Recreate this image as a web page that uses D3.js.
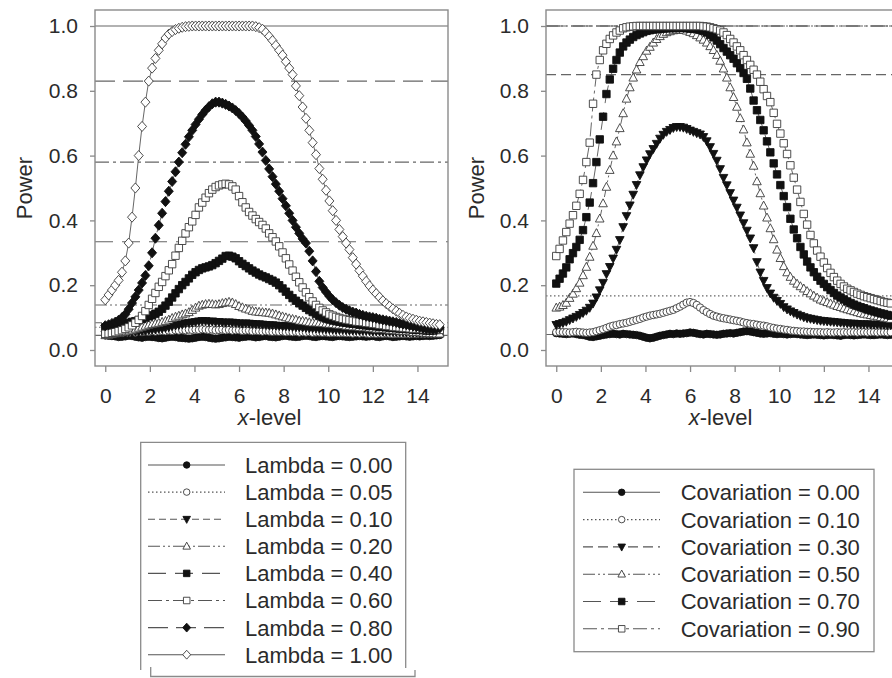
<!DOCTYPE html>
<html><head><meta charset="utf-8">
<script src="https://cdn.jsdelivr.net/npm/d3@7"></script>
<style>
body{margin:0;background:#fff}
svg{display:block}
text{font-family:"Liberation Sans",Arial,Helvetica,sans-serif;fill:#2b2b2b}
</style>
</head><body>
<svg id="chart" width="892" height="678"></svg>
<script>
// ---------- DATA ----------
const xGrid = d3.range(101).map(i => +(i * 0.15).toFixed(2));   // x-levels 0.00 .. 15.00
const xTicks = [0, 2, 4, 6, 8, 10, 12, 14];
const yTicks = [0.0, 0.2, 0.4, 0.6, 0.8, 1.0];

const lambdaLabels = ["Lambda = 0.00","Lambda = 0.05","Lambda = 0.10","Lambda = 0.20","Lambda = 0.40","Lambda = 0.60","Lambda = 0.80","Lambda = 1.00"];
const lambda000 = [.045,.044,.043,.042,.04,.041,.042,.044,.043,.041,
 .039,.038,.04,.041,.04,.039,.037,.036,.038,.04,
 .041,.04,.038,.037,.036,.035,.036,.038,.04,.041,
 .04,.038,.036,.035,.036,.038,.039,.041,.04,.039,
 .038,.04,.041,.042,.041,.039,.04,.042,.043,.041,
 .04,.039,.041,.043,.044,.042,.041,.04,.041,.043,
 .044,.043,.041,.04,.042,.043,.042,.041,.04,.042,
 .043,.042,.041,.04,.041,.042,.043,.042,.041,.042,
 .043,.041,.04,.042,.043,.042,.04,.041,.042,.043,
 .042,.041,.042,.043,.042,.043,.044,.043,.044,.045,
 .046];
const lambda005 = [.052,.05,.053,.051,.053,.052,.054,.053,.055,.054,
 .056,.055,.057,.056,.058,.057,.058,.059,.058,.06,
 .059,.061,.06,.062,.061,.063,.062,.063,.062,.064,
 .063,.062,.063,.061,.062,.063,.061,.062,.06,.061,
 .061,.059,.06,.06,.058,.059,.058,.057,.058,.057,
 .056,.057,.056,.057,.055,.056,.055,.056,.054,.055,
 .054,.055,.053,.054,.054,.053,.054,.052,.053,.053,
 .052,.053,.052,.052,.051,.052,.051,.052,.051,.05,
 .051,.05,.051,.05,.051,.05,.049,.05,.05,.049,
 .05,.049,.05,.049,.05,.049,.05,.05,.049,.05,
 .05];
const lambda010 = [.048,.05,.049,.051,.052,.054,.053,.055,.056,.058,
 .057,.059,.06,.062,.063,.064,.066,.067,.069,.071,
 .074,.076,.078,.08,.083,.084,.086,.087,.089,.09,
 .09,.088,.089,.087,.087,.086,.085,.086,.085,.084,
 .083,.082,.083,.082,.081,.08,.08,.079,.078,.077,
 .077,.076,.075,.074,.074,.073,.072,.071,.071,.07,
 .069,.068,.068,.067,.066,.066,.065,.065,.064,.063,
 .063,.063,.062,.061,.061,.061,.06,.06,.06,.059,
 .058,.058,.058,.057,.057,.057,.056,.056,.056,.055,
 .055,.055,.054,.054,.053,.053,.053,.053,.052,.052,
 .053];
const lambda020 = [.045,.046,.048,.05,.052,.054,.056,.059,.062,.065,
 .068,.071,.074,.077,.079,.081,.083,.086,.089,.093,
 .098,.102,.105,.109,.112,.116,.123,.13,.136,.139,
 .141,.142,.141,.14,.141,.144,.146,.148,.146,.141,
 .135,.131,.127,.124,.12,.118,.117,.116,.115,.114,
 .112,.109,.106,.103,.1,.097,.095,.093,.09,.089,
 .087,.085,.084,.084,.083,.082,.081,.08,.079,.078,
 .077,.076,.074,.073,.072,.072,.07,.069,.069,.068,
 .066,.065,.065,.064,.063,.062,.061,.06,.059,.058,
 .058,.057,.055,.055,.054,.053,.052,.051,.051,.05,
 .05];
const lambda040 = [.07,.071,.073,.075,.077,.079,.081,.084,.087,.089,
 .092,.096,.1,.104,.107,.112,.118,.127,.137,.149,
 .162,.175,.188,.2,.21,.221,.232,.24,.247,.252,
 .255,.258,.262,.268,.275,.282,.29,.291,.288,.283,
 .274,.266,.259,.252,.245,.239,.233,.228,.224,.219,
 .214,.208,.2,.19,.18,.17,.16,.152,.144,.137,
 .13,.123,.117,.111,.106,.101,.097,.094,.091,.089,
 .087,.085,.084,.082,.081,.08,.078,.077,.076,.075,
 .074,.073,.072,.071,.07,.069,.068,.067,.066,.065,
 .065,.064,.063,.062,.062,.061,.06,.06,.06,.062,
 .066];
const lambda060 = [.05,.051,.053,.055,.058,.061,.065,.07,.076,.084,
 .093,.105,.12,.139,.158,.176,.195,.21,.228,.246,
 .265,.291,.315,.337,.36,.379,.397,.417,.44,.455,
 .47,.484,.495,.503,.508,.511,.513,.511,.505,.495,
 .475,.456,.44,.426,.415,.404,.395,.386,.375,.36,
 .348,.335,.32,.301,.283,.264,.245,.226,.209,.193,
 .178,.163,.15,.139,.13,.122,.116,.11,.106,.102,
 .099,.096,.094,.092,.09,.088,.087,.086,.084,.083,
 .081,.08,.078,.077,.075,.074,.072,.071,.07,.069,
 .068,.067,.066,.066,.065,.064,.064,.063,.063,.062,
 .062];
const lambda080 = [.075,.078,.082,.086,.092,.1,.11,.126,.145,.164,
 .185,.207,.23,.26,.3,.345,.385,.422,.458,.49,
 .52,.55,.58,.609,.635,.658,.678,.696,.712,.727,
 .74,.751,.76,.765,.765,.762,.758,.753,.747,.739,
 .73,.719,.707,.693,.678,.659,.636,.611,.585,.559,
 .535,.512,.49,.467,.445,.422,.4,.379,.36,.343,
 .33,.305,.275,.242,.212,.193,.179,.166,.155,.146,
 .138,.131,.126,.121,.117,.114,.11,.107,.104,.102,
 .1,.098,.095,.093,.091,.089,.087,.085,.082,.08,
 .078,.076,.074,.072,.07,.068,.066,.065,.064,.064,
 .068];
const lambda100 = [.155,.17,.185,.2,.215,.24,.275,.33,.41,.5,
 .6,.69,.765,.83,.87,.9,.925,.945,.963,.975,
 .983,.989,.993,.996,.998,.999,1,1,1,1,
 1,1,1,1,1,1,1,1,1,1,
 1,1,1,1,1,.998,.995,.99,.98,.968,
 .955,.94,.925,.91,.89,.87,.85,.815,.785,.75,
 .715,.678,.64,.603,.56,.527,.493,.46,.43,.4,
 .372,.35,.33,.31,.285,.265,.245,.228,.212,.198,
 .185,.174,.163,.152,.143,.135,.127,.12,.113,.107,
 .102,.098,.095,.092,.089,.087,.085,.083,.081,.079,
 .078];
const lambdaRefs = [0.045, 0.07, 0.084, 0.139, 0.334, 0.58, 0.83, 1.0];

const covLabels = ["Covariation = 0.00","Covariation = 0.10","Covariation = 0.30","Covariation = 0.50","Covariation = 0.70","Covariation = 0.90"];
const cov000 = [.052,.051,.05,.049,.05,.051,.049,.047,.046,.044,
 .041,.04,.042,.044,.046,.048,.049,.05,.049,.048,
 .05,.049,.048,.047,.046,.044,.041,.038,.036,.038,
 .041,.044,.046,.048,.05,.049,.051,.05,.051,.052,
 .054,.053,.051,.049,.048,.05,.049,.048,.047,.048,
 .05,.051,.052,.051,.053,.055,.057,.058,.057,.055,
 .053,.051,.05,.051,.052,.05,.049,.05,.049,.048,
 .049,.05,.049,.048,.047,.046,.047,.048,.047,.046,
 .045,.046,.047,.046,.045,.044,.046,.047,.046,.045,
 .046,.047,.048,.047,.046,.046,.047,.048,.047,.046,
 .047];
const cov010 = [.055,.056,.055,.055,.054,.055,.056,.055,.054,.053,
 .054,.055,.058,.061,.064,.068,.072,.075,.077,.08,
 .082,.084,.087,.09,.093,.096,.1,.103,.106,.108,
 .11,.112,.115,.118,.121,.124,.129,.134,.14,.146,
 .148,.145,.139,.131,.123,.117,.111,.106,.103,.1,
 .098,.096,.094,.092,.09,.088,.085,.083,.081,.08,
 .078,.076,.075,.073,.07,.068,.066,.065,.063,.062,
 .06,.059,.058,.057,.057,.056,.056,.055,.055,.055,
 .054,.055,.054,.054,.055,.054,.055,.054,.055,.055,
 .054,.055,.055,.054,.055,.055,.054,.055,.055,.054,
 .055];
const cov030 = [.078,.081,.084,.088,.093,.098,.103,.109,.115,.122,
 .131,.144,.163,.185,.208,.235,.257,.283,.31,.34,
 .38,.414,.447,.48,.51,.54,.565,.586,.605,.621,
 .637,.653,.665,.674,.68,.686,.689,.689,.687,.683,
 .678,.674,.67,.666,.658,.645,.627,.606,.585,.559,
 .532,.509,.485,.462,.44,.416,.392,.369,.345,.315,
 .272,.24,.214,.192,.175,.162,.152,.143,.133,.126,
 .12,.115,.11,.106,.102,.099,.097,.095,.093,.091,
 .09,.089,.088,.087,.086,.085,.084,.083,.082,.082,
 .081,.08,.08,.08,.079,.079,.079,.078,.078,.077,
 .077];
const cov050 = [.13,.133,.138,.145,.16,.173,.19,.207,.23,.256,
 .287,.321,.36,.405,.452,.503,.555,.6,.643,.684,
 .73,.775,.81,.84,.865,.888,.906,.923,.935,.948,
 .959,.968,.975,.98,.983,.986,.988,.988,.987,.985,
 .981,.977,.971,.964,.957,.948,.937,.925,.91,.892,
 .868,.84,.81,.78,.75,.715,.68,.64,.605,.568,
 .52,.483,.445,.408,.375,.341,.309,.283,.258,.239,
 .225,.213,.204,.196,.189,.181,.174,.167,.161,.155,
 .151,.147,.143,.139,.135,.132,.128,.125,.122,.119,
 .116,.113,.111,.109,.107,.105,.103,.101,.099,.097,
 .095];
const cov070 = [.205,.22,.236,.255,.28,.299,.318,.34,.37,.41,
 .455,.515,.58,.65,.72,.79,.835,.868,.895,.918,
 .937,.949,.958,.966,.972,.977,.981,.985,.987,.989,
 .99,.991,.992,.993,.993,.994,.994,.994,.994,.993,
 .992,.991,.99,.988,.985,.98,.973,.965,.955,.944,
 .932,.921,.91,.899,.885,.87,.855,.837,.807,.77,
 .74,.71,.678,.644,.61,.576,.542,.509,.475,.441,
 .405,.372,.345,.318,.295,.273,.255,.24,.226,.214,
 .204,.194,.185,.176,.168,.162,.156,.15,.145,.14,
 .136,.132,.129,.125,.122,.119,.116,.113,.111,.108,
 .106];
const cov090 = [.29,.312,.338,.364,.39,.416,.445,.482,.525,.58,
 .64,.76,.85,.895,.925,.945,.96,.971,.98,.986,
 .993,.996,.998,.999,1,1,1,1,1,1,
 1,1,1,1,1,1,1,1,1,1,
 1,1,1,1,.999,.998,.996,.993,.99,.986,
 .98,.972,.96,.949,.937,.925,.91,.895,.88,.865,
 .85,.828,.805,.784,.765,.732,.698,.668,.638,.605,
 .57,.532,.495,.457,.42,.387,.355,.329,.307,.288,
 .27,.253,.238,.225,.214,.204,.196,.189,.184,.179,
 .174,.17,.166,.163,.16,.157,.154,.151,.148,.146,
 .144];
const covRefs = [0.048, 0.167, 0.85, 1.0, 1.0, 1.0];

// ---------- STYLES ----------
const lambdaStyle = [
  {m:"circle", fill:true,  dash:null},
  {m:"circle", fill:false, dash:"1.5,2.5"},
  {m:"triDown",fill:true,  dash:"7,4"},
  {m:"triUp",  fill:false, dash:"12,3,2,3,2,3"},
  {m:"square", fill:true,  dash:"18,9"},
  {m:"square", fill:false, dash:"14,4,3,4"},
  {m:"diamond",fill:true,  dash:"20,8"},
  {m:"diamond",fill:false, dash:null}
];
const covStyle = [
  {m:"circle", fill:true,  dash:null},
  {m:"circle", fill:false, dash:"1.5,2.5"},
  {m:"triDown",fill:true,  dash:"10,5"},
  {m:"triUp",  fill:false, dash:"12,3,2,3,2,3"},
  {m:"square", fill:true,  dash:"18,9"},
  {m:"square", fill:false, dash:"14,4,3,4"}
];
const lambdaSeries = [lambda000,lambda005,lambda010,lambda020,lambda040,lambda060,lambda080,lambda100];
const covSeries = [cov000,cov010,cov030,cov050,cov070,cov090];

function markerPath(type, k) {
  switch (type) {
    case "circle": { const r = 3.7*k; return `M${-r},0a${r},${r} 0 1,0 ${2*r},0a${r},${r} 0 1,0 ${-2*r},0Z`; }
    case "square": { const s = 3.7*k; return `M${-s},${-s}h${2*s}v${2*s}h${-2*s}Z`; }
    case "triUp":  { const s = 4.3*k; return `M0,${-s*1.1}L${s},${s*0.75}L${-s},${s*0.75}Z`; }
    case "triDown":{ const s = 4.3*k; return `M0,${s*1.1}L${s},${-s*0.75}L${-s},${-s*0.75}Z`; }
    case "diamond":{ const s = 4.5*k; return `M0,${-s*1.12}L${s},0L0,${s*1.12}L${-s},0Z`; }
  }
}

const svg = d3.select("#chart");
const FS_TICK = 21, FS_TITLE = 22, FS_LEG = 22;

function drawPanel(x0, series, styles, refs, labelX, id) {
  const top = 10, bottom = 366, width = 353;
  const xs = d3.scaleLinear().domain([-0.46, 15.37]).range([x0, x0 + width]);
  const ys = d3.scaleLinear().domain([-0.0494, 1.0494]).range([bottom, top]);
  const g = svg.append("g");
  g.append("clipPath").attr("id", "clip" + id).append("rect")
    .attr("x", x0).attr("y", top).attr("width", width).attr("height", bottom - top);
  const plot = g.append("g").attr("clip-path", `url(#clip${id})`);

  refs.forEach((v, i) => {
    plot.append("line").attr("x1", x0).attr("x2", x0 + width)
      .attr("y1", ys(v)).attr("y2", ys(v))
      .attr("stroke", "#666").attr("stroke-width", 1.1)
      .attr("stroke-dasharray", styles[i].dash);
  });

  const line = d3.line().x((d, i) => xs(xGrid[i])).y(d => ys(d));
  series.forEach((vals, si) => {
    const st = styles[si];
    plot.append("path").attr("d", line(vals)).attr("fill", "none")
      .attr("stroke", "#555").attr("stroke-width", 0.9)
      .attr("stroke-dasharray", st.dash);
    plot.append("g").selectAll("path").data(vals).join("path")
      .attr("transform", (d, i) => `translate(${xs(xGrid[i])},${ys(d)})`)
      .attr("d", markerPath(st.m, 1))
      .attr("fill", st.fill ? "#111" : "#fff")
      .attr("stroke", st.fill ? "#111" : "#3a3a3a")
      .attr("stroke-width", 0.9);
  });

  g.append("rect").attr("x", x0).attr("y", top).attr("width", width).attr("height", bottom - top)
    .attr("fill", "none").attr("stroke", "#8a8a8a").attr("stroke-width", 1.4);

  const ax = g.append("g").attr("transform", `translate(0,${bottom})`)
    .call(d3.axisBottom(xs).tickValues(xTicks).tickSize(6).tickPadding(16).tickFormat(d3.format("d")));
  const ay = g.append("g").attr("transform", `translate(${x0},0)`)
    .call(d3.axisLeft(ys).tickValues(yTicks).tickSize(5).tickPadding(12).tickFormat(d3.format(".1f")));
  [ax, ay].forEach(a => {
    a.select(".domain").remove();
    a.selectAll("line").attr("stroke", "#8a8a8a").attr("stroke-width", 1.3);
    a.selectAll("text").attr("font-size", FS_TICK).attr("fill", "#2b2b2b")
      .attr("font-family", '"Liberation Sans",Arial,sans-serif');
  });

  const xt = g.append("text").attr("x", x0 + width / 2 - 2).attr("y", 425)
    .attr("text-anchor", "middle").attr("font-size", FS_TITLE);
  xt.append("tspan").attr("font-style", "italic").text("x");
  xt.append("tspan").text("-level");
  g.append("text").attr("transform", `translate(${labelX},188) rotate(-90)`)
    .attr("text-anchor", "middle").attr("font-size", FS_TITLE).text("Power");
}

drawPanel(95, lambdaSeries, lambdaStyle, lambdaRefs, 31.5, "L");
drawPanel(546, covSeries, covStyle, covRefs, 483.5, "R");

// ---------- LEGENDS ----------
function legendRows(labels, styles, y0, dy, lx1, lx2, mx, tx) {
  labels.forEach((lab, i) => {
    const y = y0 + i * dy;
    svg.append("line").attr("x1", lx1).attr("x2", lx2).attr("y1", y).attr("y2", y)
      .attr("stroke", "#555").attr("stroke-width", 1.1).attr("stroke-dasharray", styles[i].dash);
    svg.append("path").attr("transform", `translate(${mx},${y})`)
      .attr("d", markerPath(styles[i].m, 0.88))
      .attr("fill", styles[i].fill ? "#111" : "#fff")
      .attr("stroke", styles[i].fill ? "#111" : "#3a3a3a").attr("stroke-width", 0.9);
    svg.append("text").attr("x", tx).attr("y", y).attr("dy", "0.36em")
      .attr("font-size", FS_LEG).text(lab);
  });
}
svg.append("path").attr("d", "M140.7,670V442.3H405.7V668")
  .attr("fill", "none").attr("stroke", "#8a8a8a").attr("stroke-width", 1.3);
svg.append("path").attr("d", "M150.7,667V676.5H415V670")
  .attr("fill", "none").attr("stroke", "#8a8a8a").attr("stroke-width", 1.3);
legendRows(lambdaLabels, lambdaStyle, 465, 27.1, 148, 225, 186.7, 245);

svg.append("rect").attr("x", 574).attr("y", 469.3).attr("width", 300).attr("height", 182.4)
  .attr("fill", "none").attr("stroke", "#8a8a8a").attr("stroke-width", 1.3);
legendRows(covLabels, covStyle, 492.3, 27.3, 583, 660, 621.7, 680.7);
</script>
</body></html>
